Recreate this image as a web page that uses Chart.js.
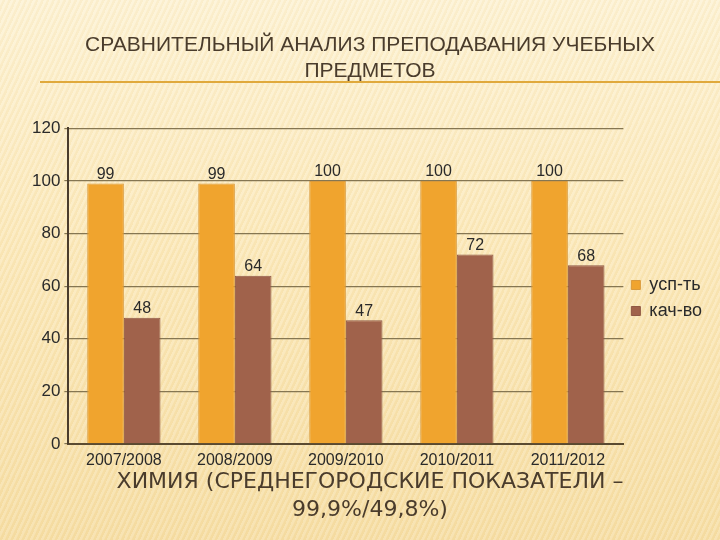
<!DOCTYPE html>
<html>
<head>
<meta charset="utf-8">
<script src="https://cdn.jsdelivr.net/npm/chart.js@4/dist/chart.umd.min.js"></script>
<style>
  html, body { margin: 0; padding: 0; }
  body {
    width: 720px; height: 540px; overflow: hidden;
    background:
      repeating-linear-gradient(115deg, rgba(255,255,255,0.18) 0px, rgba(255,255,255,0.18) 2px, rgba(230,200,140,0.10) 3px, rgba(230,200,140,0.10) 5px),
      linear-gradient(180deg, #fdf2d3 0%, #fbe8b8 45%, #f6dda2 100%);
  }
  #wrap { position: absolute; left: 0; top: 0; width: 720px; height: 540px; }
</style>
</head>
<body>
<div id="wrap"><canvas id="barChart"></canvas></div>
<script>
var categorias = ['2007/2008', '2008/2009', '2009/2010', '2010/2011', '2011/2012'];
var uspevaemost = [99, 99, 100, 100, 100];
var kachestvo = [48, 64, 47, 72, 68];
var nombreSeries = ['усп-ть', 'кач-во'];
var titulo = ['СРАВНИТЕЛЬНЫЙ АНАЛИЗ ПРЕПОДАВАНИЯ УЧЕБНЫХ', 'ПРЕДМЕТОВ'];
var pie = ['ХИМИЯ (СРЕДНЕГОРОДСКИЕ ПОКАЗАТЕЛИ –', '99,9%/49,8%)'];

// numeros encima de las barras
var etiquetas = {
  id: 'etiquetas',
  afterDatasetsDraw: function (chart) {
    var ctx = chart.ctx
    ctx.save()
    ctx.font = '16px "Liberation Sans", Arial, sans-serif'
    ctx.fillStyle = '#2a2a2a'
    ctx.textAlign = 'center'
    ctx.textBaseline = 'bottom'
    chart.data.datasets.forEach(function (ds, i) {
      chart.getDatasetMeta(i).data.forEach(function (bar, j) {
        ctx.fillText(ds.data[j], bar.x, bar.y - 1)
      })
    })
    ctx.restore()
  }
}

// linea bajo el titulo y leyenda un poco mas abajo
var subrayado = {
  id: 'subrayado',
  afterLayout: function (chart) {
    chart.legend.top += 28
    chart.legend.bottom += 28
  },
  afterDraw: function (chart) {
    var ctx = chart.ctx
    ctx.save()
    ctx.strokeStyle = '#e0a93c'
    ctx.lineWidth = 2
    ctx.beginPath()
    ctx.moveTo(40, 82)
    ctx.lineTo(720, 82)
    ctx.stroke()
    ctx.restore()
  }
}

var barChartCanvas = document.getElementById('barChart').getContext('2d')
var barChart = new Chart(barChartCanvas, {
  type: 'bar',
  data: {
    labels: categorias,
    datasets: [
      {
        label: nombreSeries[0],
        data: uspevaemost,
        backgroundColor: '#f0a42e',
        borderColor: '#d99a3c',
        borderWidth: 1
      },
      {
        label: nombreSeries[1],
        data: kachestvo,
        backgroundColor: '#a0624b',
        borderColor: '#8f5845',
        borderWidth: 1
      }
    ]
  },
  options: {
    responsive: true,
    maintainAspectRatio: false,
    animation: false,
    layout: { padding: { left: 28, right: 8, top: 0, bottom: 0 } },
    datasets: { bar: { categoryPercentage: 0.66, barPercentage: 1.0 } },
    plugins: {
      title: {
        display: true,
        text: titulo,
        color: '#4a3c2c',
        font: { family: '"Liberation Sans Narrow", "Liberation Sans", Arial, sans-serif', size: 21, weight: 'normal', lineHeight: 1.2 },
        padding: { top: 33, bottom: 45 }
      },
      subtitle: {
        display: true,
        position: 'bottom',
        text: pie,
        color: '#4a3c2c',
        font: { family: '"DejaVu Sans", "Open Sans", sans-serif', size: 22, weight: 'normal', lineHeight: 1.27 },
        padding: { top: -5, bottom: 16 }
      },
      legend: {
        position: 'right',
        align: 'center',
        labels: {
          boxWidth: 9,
          boxHeight: 9,
          padding: 8,
          color: '#2a2a2a',
          font: { family: '"Liberation Sans", Arial, sans-serif', size: 18 }
        }
      },
      tooltip: { enabled: false }
    },
    scales: {
      x: {
        grid: { display: false, drawTicks: true, tickLength: 4 },
        border: { color: '#5a4a30', width: 2 },
        ticks: { color: '#2a2a2a', font: { family: '"Liberation Sans", Arial, sans-serif', size: 16 }, padding: 3 }
      },
      y: {
        min: 0,
        max: 120,
        ticks: { stepSize: 20, color: '#2a2a2a', font: { family: '"Liberation Sans", Arial, sans-serif', size: 17 }, padding: 4 },
        grid: { color: '#857652', lineWidth: 1.2, drawTicks: true, tickLength: 4 },
        border: { color: '#4a3c2c', width: 2 }
      }
    }
  },
  plugins: [etiquetas, subrayado]
})
</script>
</body>
</html>
